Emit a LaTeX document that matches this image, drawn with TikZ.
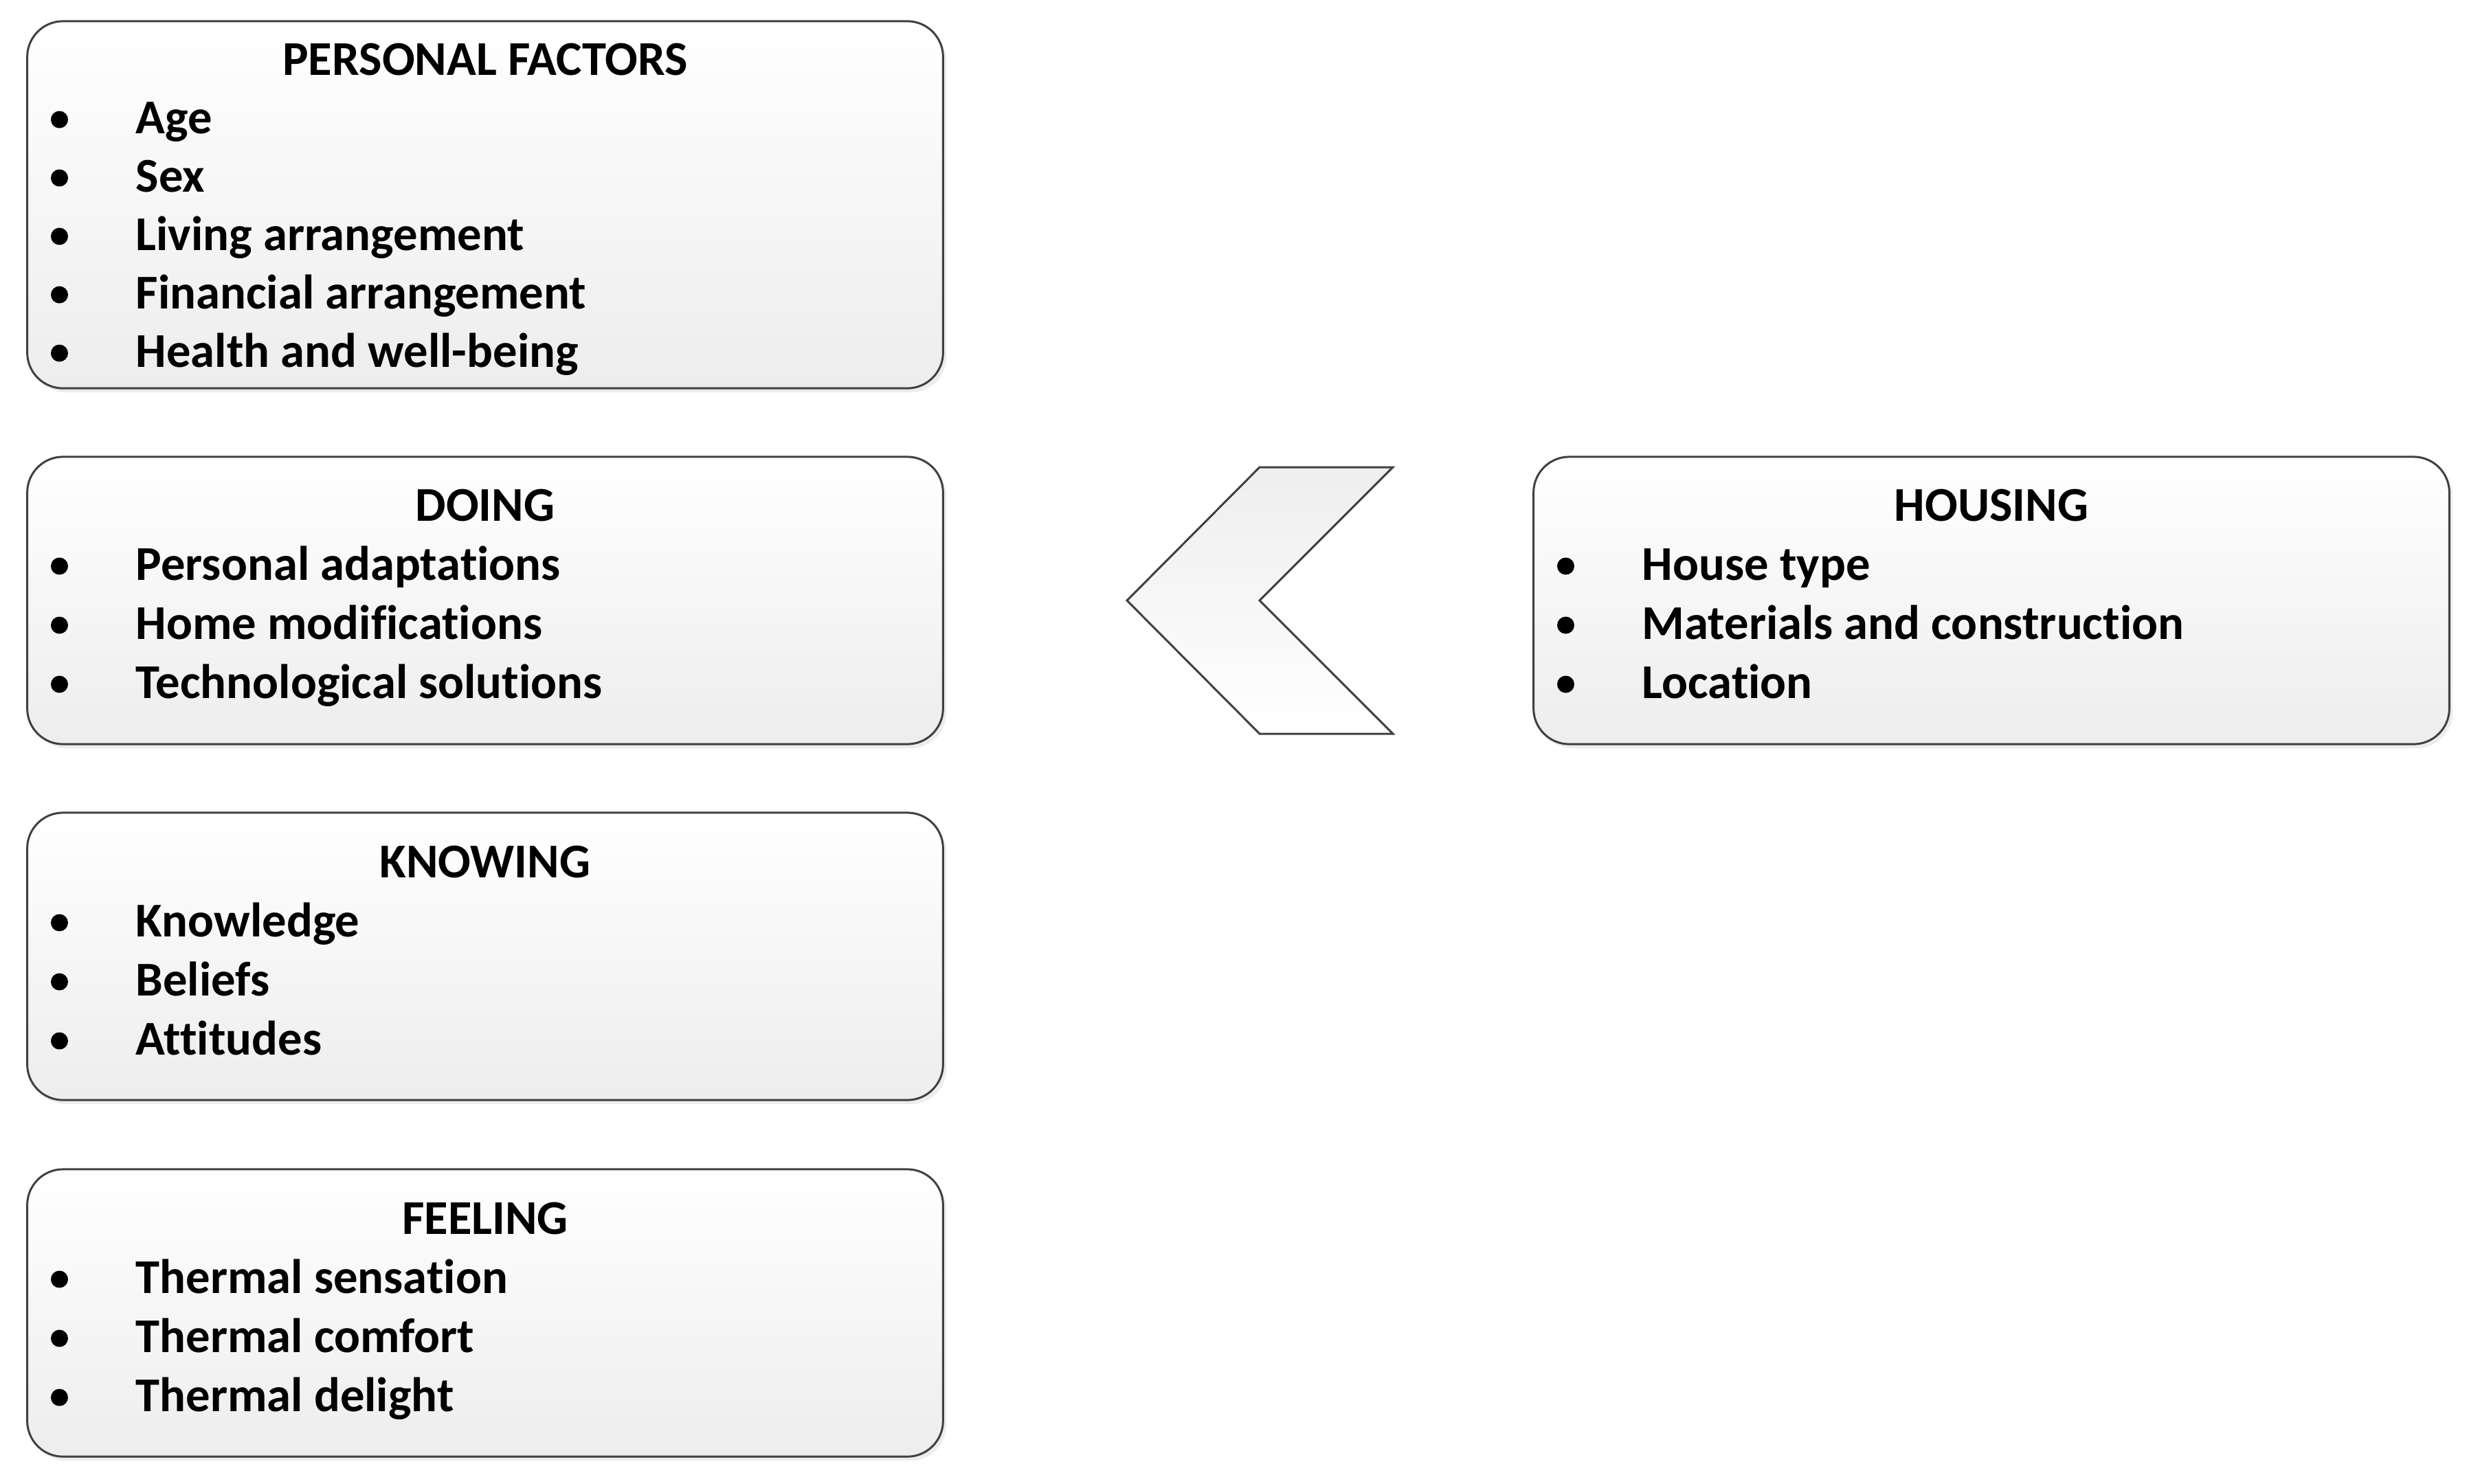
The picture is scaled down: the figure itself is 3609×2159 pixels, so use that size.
\documentclass[tikz,border=0pt]{standalone}
\usepackage{fontspec}
\setmainfont{Carlito}[Ligatures=NoCommon]
\usetikzlibrary{shadows}
\definecolor{edge}{HTML}{404040}
\definecolor{shadeb}{HTML}{EDEDED}
\definecolor{chevtop}{HTML}{EEEEEE}
\newcommand\fsz{\fontsize{20.1pt}{24pt}\selectfont\bfseries}
\tikzset{
  x=0.01cm, y=-0.01cm,
  panel/.style={draw=edge, line width=0.85pt, rounded corners=0.52cm,
    top color=white, bottom color=shadeb, minimum width=13.32cm, inner sep=0pt,
    drop shadow={shadow xshift=0.05cm, shadow yshift=-0.06cm, opacity=0.07, fill=black}},
  ttl/.style={anchor=base, font=\fsz, inner sep=0pt},
  itm/.style={anchor=base west, font=\fsz, inner sep=0pt},
  bul/.style={circle, fill=black, inner sep=0pt, minimum size=0.25cm},
  chev/.style={draw=edge, line width=0.85pt, line join=miter, top color=chevtop, bottom color=white}
}
\newcommand\panelitems[5]{% name, left x, first baseline, spacing, items
  \foreach \t [count=\i] in {#5} {
    \node[bul] (#1-b\i) at ({#2+46.5},{#3+(\i-1)*#4-20}) {};
    \node[itm] (#1-i\i) at ({#2+157},{#3+(\i-1)*#4}) {\t};
  }}
\begin{document}
\begin{tikzpicture}
\useasboundingbox (0,0) rectangle (3609,2159);
% panels
\node[panel, minimum height=5.34cm] (pf) at (706,298) {};
\node[panel, minimum height=4.18cm] (doing) at (706,874) {};
\node[panel, minimum height=4.18cm] (knowing) at (706,1392) {};
\node[panel, minimum height=4.18cm] (feeling) at (706,1911) {};
\node[panel, minimum height=4.18cm] (housing) at (2898,874) {};
% chevron
\draw[chev] (1640,874) -- (1833,680) -- (2027,680) -- (1833,874) -- (2027,1068) -- (1833,1068) -- cycle;
% titles
\node[ttl] (pf-t) at (706,109) {PERSONAL FACTORS};
\node[ttl] (doing-t) at (706,758) {DOING};
\node[ttl] (knowing-t) at (706,1277) {KNOWING};
\node[ttl] (feeling-t) at (706,1796) {FEELING};
\node[ttl] (housing-t) at (2898,758) {HOUSING};
% items
\panelitems{pf}{40}{194}{85}{Age,Sex,Living arrangement,Financial arrangement,Health and well-being}
\panelitems{doing}{40}{844}{86}{Personal adaptations,Home modifications,Technological solutions}
\panelitems{knowing}{40}{1363}{86}{Knowledge,Beliefs,Attitudes}
\panelitems{feeling}{40}{1882}{86}{Thermal sensation,Thermal comfort,Thermal delight}
\panelitems{housing}{2232}{844}{86}{House type,Materials and construction,Location}
\end{tikzpicture}
\end{document}
